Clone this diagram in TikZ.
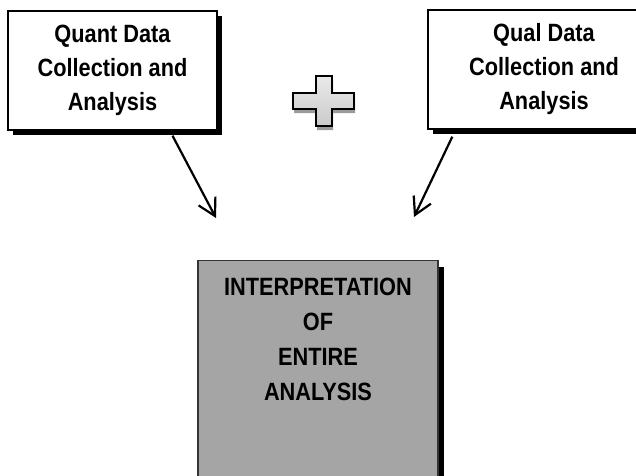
\documentclass[tikz,border=0pt]{standalone}
\usepackage{fontspec}
\setmainfont{Liberation Sans}[FakeStretch=0.87]
\usetikzlibrary{arrows.meta,shadows,positioning}
\definecolor{boxgray}{HTML}{A5A5A5}
\definecolor{plustop}{HTML}{E9E9E9}
\definecolor{plusbottom}{HTML}{CBCBCB}
\definecolor{plusshadow}{HTML}{9B9B9B}

\begin{document}
\begin{tikzpicture}[x=1pt,y=1pt,
    databox/.style={draw=black, line width=1.4pt, fill=white, align=center,
        minimum height=119pt, inner sep=0pt,
        font=\fontsize{25}{34}\bfseries\selectfont,
        drop shadow={shadow xshift=5pt, shadow yshift=-5pt, fill=black, opacity=1}},
    resultbox/.style={draw=black!80, line width=1.4pt, fill=boxgray,
        minimum width=240pt, minimum height=240pt, inner sep=0pt,
        drop shadow={shadow xshift=6pt, shadow yshift=-6pt, fill=black, opacity=1}},
    resulttext/.style={align=center, inner sep=0pt,
        font=\fontsize{25}{35}\bfseries\selectfont},
    flow/.style={line width=2.2pt, -{Straight Barb[length=17pt, width=19pt, line width=2.2pt]}}
    ]
    \useasboundingbox (0,0) rectangle (636,475);
    \clip (0,0) rectangle (636,475);

    \node[databox, minimum width=209pt] (quant) at (112.5,404.5)
        {Quant Data\\Collection and\\Analysis};
    \node[databox, minimum width=232pt] (qual) at (544,405.5)
        {Qual Data\\Collection and\\Analysis};

    \fill[plusshadow] (317,395) -- (333,395) -- (333,378) -- (355,378) -- (355,362)
        -- (333,362) -- (333,345) -- (317,345) -- (317,362) -- (294,362)
        -- (294,378) -- (317,378) -- cycle;
    \draw[line width=1.8pt, top color=plustop, bottom color=plusbottom]
        (316,399) -- (332,399) -- (332,382) -- (354,382) -- (354,366)
        -- (332,366) -- (332,349) -- (316,349) -- (316,366) -- (293,366)
        -- (293,382) -- (316,382) -- cycle;

    \node[resultbox, anchor=north] (interp) at (318,215) {};
    \node[resulttext, anchor=north] (interplabel) at ([yshift=-18pt]interp.north)
        {INTERPRETATION\\OF\\ENTIRE\\ANALYSIS};

    \coordinate (quantend) at (216,257);
    \coordinate (qualend) at (414,258);
    \draw[flow] ([xshift=60pt, yshift=-5pt]quant.south) -- (quantend);
    \draw[flow] ([xshift=25pt, yshift=-7pt]qual.south west) -- (qualend);
\end{tikzpicture}
\end{document}
